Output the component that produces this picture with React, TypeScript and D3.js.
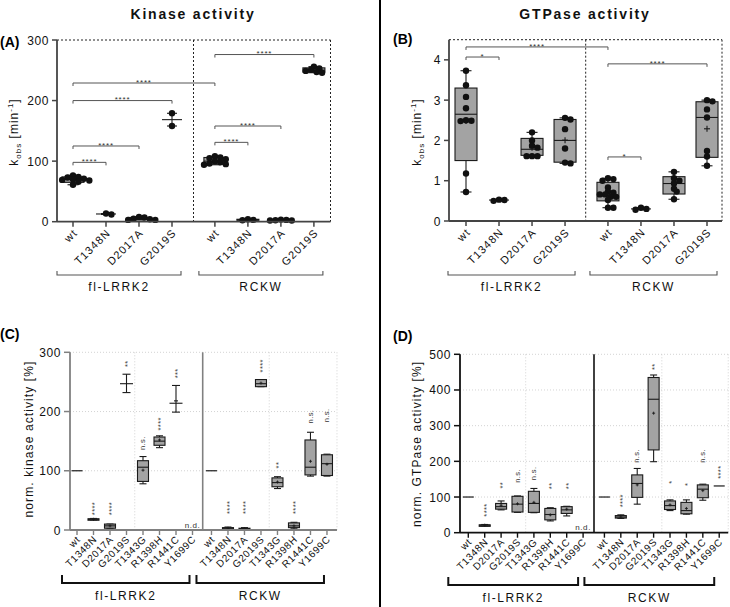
import React from "react";
import * as d3 from "d3";

const FONT = "'Liberation Sans', Arial, Helvetica, sans-serif";

// ---------- shared categories ----------
const groupNames = ["fl-LRRK2", "RCKW"];
const variantsAB = ["wt", "T1348N", "D2017A", "G2019S"];
const variantsCD = ["wt", "T1348N", "D2017A", "G2019S", "T1343G", "R1398H", "R1441C", "Y1699C"];

// ---------- (A) kinase activity, kobs [min^-1] ----------
const kinaseTicks = [0, 100, 200, 300];
const kinaseFlPoints = [
  [76.5, 74, 73, 71, 70, 69, 68, 66, 61],
  [12, 13.5],
  [8, 7, 5, 4, 3, 3],
  [179, 158],
];
const kinaseRckwPoints = [
  [108, 106, 105, 103, 100, 98, 96, 95, 94],
  [4, 3, 2.5],
  [3.5, 3, 2.5, 2, 2],
  [256, 253, 251, 249, 247, 246],
];
// [min, q1, median, q3, max] ; null = too few points for a box
const kinaseFlBox = [[61, 65, 70, 74, 76.5], null, [3, 3.5, 5, 7, 8], null];
const kinaseRckwBox = [[94, 95, 100, 106, 108], [2.5, 2.5, 3, 4, 4], [2, 2, 2.5, 3, 3.5], [246, 247, 250, 254, 256]];
// [from category, to category, level, label]
const kinaseBrackets: [number, number, number, string][] = [
  [0, 4, 229, "****"], [0, 3, 200, "****"], [0, 2, 125, "****"], [0, 1, 98, "****"],
  [4, 7, 276, "****"], [4, 6, 158, "****"], [4, 5, 131, "****"],
];

// ---------- (B) GTPase activity, kobs [min^-1] ----------
const gtpaseTicks = [0, 1, 2, 3, 4];
const gtpaseFlPoints = [
  [3.73, 3.37, 3.08, 2.8, 2.5, 2.49, 2.48, 1.18, 0.72],
  [0.53, 0.5, 0.52],
  [2.2, 2.0, 1.87, 1.82, 1.61, 1.61, 1.61],
  [2.56, 2.52, 2.28, 1.8, 1.45, 1.43],
];
const gtpaseRckwPoints = [
  [1.06, 1.04, 1.0, 0.83, 0.73, 0.7, 0.66, 0.66, 0.6, 0.6, 0.52, 0.33, 0.33],
  [0.33, 0.28, 0.3],
  [1.22, 1.06, 1.0, 0.94, 0.8, 0.73, 0.54],
  [3.0, 2.97, 2.77, 2.57, 1.74, 1.6, 1.37],
];
const gtpaseFlBox = [[0.72, 1.5, 2.65, 3.3, 3.73], null, [1.61, 1.63, 1.78, 2.05, 2.2], [1.43, 1.46, 2.0, 2.52, 2.56]];
const gtpaseRckwBox = [[0.33, 0.5, 0.62, 0.96, 1.06], null, [0.54, 0.67, 0.93, 1.1, 1.22], [1.37, 1.58, 2.57, 2.96, 3.0]];
const gtpaseBrackets: [number, number, number, string][] = [
  [0, 4, 4.32, "****"], [0, 1, 4.07, "*"], [4, 7, 3.9, "****"], [4, 5, 1.59, "*"],
];

// ---------- (C) normalised kinase activity [%] ----------
// [v] single value, [min, mean, max(, mean marker)] error bar, [min, q1, median, q3, max, mean] box, null = n.d.
const normKinaseTicks = [0, 100, 200, 300];
const normKinaseFl = [[100], [17, 17.5, 18, 19, 19.5, 18], [3, 3, 7, 10, 10, 7], [232, 247, 263], [78, 82, 106, 117, 124, 101], [139, 143, 150, 157, 159, 152], [199, 214, 244, 218], null];
const normKinaseRckw = [[100], [1, 2, 3, 4, 5, 3], [1, 1.5, 2.5, 3, 4, 2.5], [242, 242, 247, 254, 254, 248], [70, 73, 80, 88, 90, 81], [2, 4, 7, 12, 13, 7], [91, 93, 106, 152, 165, 116], [91, 92, 112, 127, 128, 111]];
const normKinaseFlSig = ["", "****", "****", "**", "n.s.", "****", "***", "n.d."];
const normKinaseRckwSig = ["", "****", "****", "****", "**", "****", "n.s.", "n.s."];
const normKinaseFlSigAt = [0, 25, 25, 275, 135, 168, 256, 0];
const normKinaseRckwSigAt = [0, 27, 27, 266, 104, 27, 180, 182];

// ---------- (D) normalised GTPase activity [%] ----------
const normGtpaseTicks = [0, 100, 200, 300, 400, 500];
const normGtpaseFl = [[100], [19, 20, 21, 22, 23, 21], [64, 66, 73, 82, 89, 77], [57, 58, 80, 102, 103, 81], [56, 57, 82, 116, 124, 85], [33, 36, 51, 68, 70, 50], [47, 54, 64, 73, 74, 66], null];
const normGtpaseRckw = [[100], [40, 41, 44, 48, 50, 44], [80, 99, 138, 162, 180, 134], [199, 232, 374, 435, 442, 335], [62, 65, 76, 89, 92, 78], [52, 53, 62, 85, 92, 68], [91, 98, 122, 134, 136, 118], [131]];
const normGtpaseFlSig = ["", "****", "**", "n.s.", "n.s.", "**", "**", "n.d."];
const normGtpaseRckwSig = ["", "****", "n.s.", "**", "*", "*", "n.s.", "****"];
const normGtpaseFlSigAt = [0, 45, 124, 140, 147, 122, 122, 0];
const normGtpaseRckwSigAt = [0, 71, 196, 456, 137, 131, 196, 151];

// ---------- helpers ----------
function swarm(values: number[], y: (v: number) => number, r: number) {
  const placed: { x: number; y: number }[] = [];
  const sorted = values.slice().sort((a, b) => b - a);
  for (const v of sorted) {
    const py = y(v);
    let chosen = 0;
    for (let k = 0; k < 30; k++) {
      const off = k === 0 ? 0 : (k % 2 === 1 ? 1 : -1) * Math.ceil(k / 2) * r * 0.85;
      if (placed.every((p) => Math.hypot(p.x - off, p.y - py) >= r * 1.2)) {
        chosen = off;
        break;
      }
    }
    placed.push({ x: chosen, y: py });
  }
  return placed;
}

const BOX_FILL = "#a3a3a3";
const INK = "#1a1a1a";

function KobsPanel(props: any) {
  const { flPoints, rckwPoints, flBox, rckwBox, brackets, domain, ticks, L, showMean, tickFmt, yLabel } = props;
  const y = d3.scaleLinear().domain(domain).range([L.bottom, L.top]);
  const xl = d3.scaleLinear().domain([0, 7.3]).range([L.x0, L.x1]);
  const pos = (i: number) => xl(i + (i >= 4 ? 0.3 : 0));
  const allPoints: number[][] = [...flPoints, ...rckwPoints];
  const allBoxes: (number[] | null)[] = [...flBox, ...rckwBox];
  const labels = [...variantsAB, ...variantsAB];
  const axisColor = "#444";
  const bw = 22;
  return (
    <g>
      <g stroke="#222" strokeWidth={1} strokeDasharray="2,2" fill="none">
        <line x1={L.left} x2={L.right} y1={L.top} y2={L.top} />
        <line x1={L.right} x2={L.right} y1={L.top} y2={L.bottom} />
        <line x1={L.mid} x2={L.mid} y1={L.top} y2={L.bottom} />
      </g>
      {brackets.map((b: any, i: number) => {
        const x1 = pos(b[0]), x2 = pos(b[1]), yy = y(b[2]);
        return (
          <g key={"br" + i}>
            <path d={`M${x1},${yy + 3}V${yy}H${x2}V${yy + 3}`} fill="none" stroke="#555" strokeWidth={1} />
            <text x={(x1 + x2) / 2} y={yy + 1.8} textAnchor="middle" fontSize={8} letterSpacing={0.8} fill="#333">{b[3]}</text>
          </g>
        );
      })}
      {allBoxes.map((s, i) => {
        const x = pos(i);
        const pts = allPoints[i];
        if (!s) {
          const mn = d3.min(pts)!, mx = d3.max(pts)!, md = d3.median(pts)!;
          return (
            <g key={"bx" + i} stroke={INK} strokeWidth={1.1}>
              <line x1={x} x2={x} y1={y(mn)} y2={y(mx)} />
              <line x1={x - 5} x2={x + 5} y1={y(mn)} y2={y(mn)} />
              <line x1={x - 5} x2={x + 5} y1={y(mx)} y2={y(mx)} />
              <line x1={x - 10} x2={x + 10} y1={y(md)} y2={y(md)} />
            </g>
          );
        }
        const [mn, q1, md, q3, mx] = s;
        const mean = d3.mean(pts)!;
        return (
          <g key={"bx" + i} stroke={INK} strokeWidth={1.1}>
            <line x1={x} x2={x} y1={y(mx)} y2={y(q3)} />
            <line x1={x} x2={x} y1={y(q1)} y2={y(mn)} />
            <line x1={x - 5.5} x2={x + 5.5} y1={y(mx)} y2={y(mx)} />
            <line x1={x - 5.5} x2={x + 5.5} y1={y(mn)} y2={y(mn)} />
            <rect x={x - bw / 2} y={y(q3)} width={bw} height={Math.max(1, y(q1) - y(q3))} fill={BOX_FILL} />
            <line x1={x - bw / 2} x2={x + bw / 2} y1={y(md)} y2={y(md)} />
            {showMean && (
              <g>
                <line x1={x - 3} x2={x + 3} y1={y(mean)} y2={y(mean)} />
                <line x1={x} x2={x} y1={y(mean) - 3} y2={y(mean) + 3} />
              </g>
            )}
          </g>
        );
      })}
      {allPoints.map((pts, i) =>
        swarm(pts, y, 3.2).map((p, j) => (
          <circle key={`pt${i}-${j}`} cx={pos(i) + p.x} cy={p.y} r={3.2} fill="#111" />
        ))
      )}
      <line x1={L.left} x2={L.left} y1={L.top} y2={L.bottom} stroke={axisColor} strokeWidth={1.8} />
      <line x1={L.left} x2={L.right} y1={L.bottom} y2={L.bottom} stroke={axisColor} strokeWidth={1.8} />
      {ticks.map((t: number) => (
        <g key={"yt" + t}>
          <line x1={L.left - 5} x2={L.left} y1={y(t)} y2={y(t)} stroke={axisColor} strokeWidth={1.5} />
          <text x={L.left - 8} y={y(t) + 4.5} textAnchor="end" fontSize={12} letterSpacing={0.6} fill="#111">{tickFmt(t)}</text>
        </g>
      ))}
      {labels.map((lab, i) => (
        <g key={"xt" + i}>
          <line x1={pos(i)} x2={pos(i)} y1={L.bottom} y2={L.bottom + 5} stroke={axisColor} strokeWidth={1.5} />
          <text transform={`translate(${pos(i) + 5},${L.bottom + 12}) rotate(-45)`} textAnchor="end" fontSize={11} letterSpacing={1} fill="#111">{lab}</text>
        </g>
      ))}
      {groupNames.map((g, gi) => {
        const a = pos(gi * 4) + L.brA, b = pos(gi * 4 + 3) + L.brB;
        return (
          <g key={"grp" + g}>
            <path d={`M${a},${L.brY - 4}V${L.brY}H${b}V${L.brY - 4}`} fill="none" stroke="#555" strokeWidth={1.1} />
            <text x={(a + b) / 2} y={L.brY + 16} textAnchor="middle" fontSize={12} letterSpacing={1.6} fill="#111">{g}</text>
          </g>
        );
      })}
      {yLabel}
    </g>
  );
}

function NormPanel(props: any) {
  const { fl, rckw, flSig, rckwSig, flSigAt, rckwSigAt, domain, ticks, L, axisColor, midColor, yLabel } = props;
  const y = d3.scaleLinear().domain(domain).range([L.bottom, L.top]);
  const xl = d3.scaleLinear().domain([0, 1]).range([L.x0, L.x0 + L.step]);
  const pos = (i: number) => xl(i + (i >= 8 ? L.gap : 0));
  const stats: (number[] | null)[] = [...fl, ...rckw];
  const sig: string[] = [...flSig, ...rckwSig];
  const sigAt: number[] = [...flSigAt, ...rckwSigAt];
  const labels = [...variantsCD, ...variantsCD];
  const right = pos(15) + L.rightPad;
  const gridX = [(pos(3) + pos(4)) / 2, (pos(11) + pos(12)) / 2, right];
  const bw = 11;
  return (
    <g>
      <g stroke="#c8c8c8" strokeWidth={0.8} strokeDasharray="1,2" fill="none">
        {ticks.filter((t: number) => t > 0).map((t: number) => (
          <line key={"gy" + t} x1={L.left} x2={right} y1={y(t)} y2={y(t)} />
        ))}
        {gridX.map((gx, i) => (
          <line key={"gx" + i} x1={gx} x2={gx} y1={L.top} y2={L.bottom} />
        ))}
      </g>
      <line x1={L.mid} x2={L.mid} y1={L.top} y2={L.bottom} stroke={midColor} strokeWidth={1.6} />
      {stats.map((s, i) => {
        const x = pos(i);
        if (!s) return null;
        if (s.length === 1) {
          return <line key={"m" + i} x1={x - 5.5} x2={x + 5.5} y1={y(s[0])} y2={y(s[0])} stroke={INK} strokeWidth={1.2} />;
        }
        if (s.length <= 4) {
          const [lo, m, hi, plus] = s;
          return (
            <g key={"m" + i} stroke={INK} strokeWidth={1.1}>
              <line x1={x} x2={x} y1={y(lo)} y2={y(hi)} />
              <line x1={x - 4} x2={x + 4} y1={y(lo)} y2={y(lo)} />
              <line x1={x - 4} x2={x + 4} y1={y(hi)} y2={y(hi)} />
              <line x1={x - 6.5} x2={x + 6.5} y1={y(m)} y2={y(m)} />
              {plus != null && <line x1={x - 2} x2={x + 2} y1={y(plus)} y2={y(plus)} />}
            </g>
          );
        }
        const [mn, q1, md, q3, mx, mean] = s;
        return (
          <g key={"m" + i} stroke={INK} strokeWidth={1.1}>
            <line x1={x} x2={x} y1={y(mx)} y2={y(mn)} />
            <line x1={x - 3.5} x2={x + 3.5} y1={y(mx)} y2={y(mx)} />
            <line x1={x - 3.5} x2={x + 3.5} y1={y(mn)} y2={y(mn)} />
            <rect x={x - bw / 2} y={y(q3)} width={bw} height={Math.max(1.5, y(q1) - y(q3))} fill={BOX_FILL} />
            <line x1={x - bw / 2} x2={x + bw / 2} y1={y(md)} y2={y(md)} />
            <line x1={x - 1.5} x2={x + 1.5} y1={y(mean)} y2={y(mean)} strokeWidth={0.9} />
            <line x1={x} x2={x} y1={y(mean) - 1.5} y2={y(mean) + 1.5} strokeWidth={0.9} />
          </g>
        );
      })}
      {sig.map((s, i) => {
        if (!s) return null;
        const x = pos(i);
        if (s === "n.d.") {
          return <text key={"s" + i} x={x} y={L.bottom - 2.5} textAnchor="middle" fontSize={8} letterSpacing={0.6} fill="#333">{s}</text>;
        }
        const isStar = s.indexOf("*") >= 0;
        const dx = isStar ? 3.8 : 2.2;
        return (
          <text key={"s" + i} transform={`translate(${x + dx},${y(sigAt[i])}) rotate(-90)`} fontSize={7.5} letterSpacing={0.4} fill="#333">{s}</text>
        );
      })}
      <line x1={L.left} x2={L.left} y1={L.top} y2={L.bottom} stroke={axisColor} strokeWidth={1.8} />
      <line x1={L.left} x2={right} y1={L.bottom} y2={L.bottom} stroke={axisColor} strokeWidth={1.8} />
      {ticks.map((t: number) => (
        <g key={"yt" + t}>
          <line x1={L.left - 6} x2={L.left} y1={y(t)} y2={y(t)} stroke={axisColor} strokeWidth={1.5} />
          <text x={L.left - 9} y={y(t) + 4.5} textAnchor="end" fontSize={12} letterSpacing={0.6} fill="#111">{t}</text>
        </g>
      ))}
      {labels.map((lab, i) => (
        <g key={"xt" + i}>
          <line x1={pos(i)} x2={pos(i)} y1={L.bottom} y2={L.bottom + 5} stroke={axisColor} strokeWidth={1.4} />
          <text transform={`translate(${pos(i) + 4},${L.bottom + 10}) rotate(-45)`} textAnchor="end" fontSize={10} letterSpacing={0.6} fill="#111">{lab}</text>
        </g>
      ))}
      {groupNames.map((g, gi) => {
        const a = pos(gi * 8) + L.brA, b = pos(gi * 8 + 7) + L.brB;
        return (
          <g key={"grp" + g}>
            <path d={`M${a},${L.brY - 8}V${L.brY}H${b}V${L.brY - 8}`} fill="none" stroke="#111" strokeWidth={2} />
            <text x={(a + b) / 2} y={L.brY + 17} textAnchor="middle" fontSize={12} letterSpacing={1.6} fill="#111">{g}</text>
          </g>
        );
      })}
      {yLabel}
    </g>
  );
}

function KobsLabel({ x, y }: { x: number; y: number }) {
  return (
    <text transform={`translate(${x},${y}) rotate(-90)`} textAnchor="middle" fontSize={12} letterSpacing={1} fill="#111">
      k<tspan fontSize={8} dy={3}>obs</tspan>
      <tspan dy={-3}> [min</tspan>
      <tspan fontSize={8} dy={-5}>-1</tspan>
      <tspan dy={5}>]</tspan>
    </text>
  );
}

function NormLabel({ x, y, text }: { x: number; y: number; text: string }) {
  return (
    <text transform={`translate(${x},${y}) rotate(-90)`} textAnchor="middle" fontSize={12} letterSpacing={1.1} fill="#111">
      {text}
    </text>
  );
}

export default function App() {
  return (
    <svg
      width={730}
      height={607}
      viewBox="0 0 730 607"
      style={{ position: "absolute", left: 0, top: 0, background: "#fff" }}
      fontFamily={FONT}
    >
      <rect width={730} height={607} fill="#fff" />
      <line x1={380} x2={380} y1={0} y2={607} stroke="#000" strokeWidth={2} />
      <text x={193} y={19} textAnchor="middle" fontWeight="bold" fontSize={14} letterSpacing={1.8} fill="#111">Kinase activity</text>
      <text x={585} y={19} textAnchor="middle" fontWeight="bold" fontSize={14} letterSpacing={1.8} fill="#111">GTPase activity</text>
      <text x={0} y={47} fontWeight="bold" fontSize={14}>(A)</text>
      <text x={393} y={44} fontWeight="bold" fontSize={14}>(B)</text>
      <text x={0} y={339} fontWeight="bold" fontSize={14}>(C)</text>
      <text x={393} y={341} fontWeight="bold" fontSize={14}>(D)</text>

      <KobsPanel
        flPoints={kinaseFlPoints}
        rckwPoints={kinaseRckwPoints}
        flBox={kinaseFlBox}
        rckwBox={kinaseRckwBox}
        brackets={kinaseBrackets}
        domain={[0, 300]}
        ticks={kinaseTicks}
        tickFmt={(t: number) => String(t)}
        showMean={false}
        L={{ left: 57, right: 330.5, top: 40, bottom: 221.7, mid: 193.5, x0: 73, x1: 313.9, brY: 275, brA: -16, brB: 9 }}
        yLabel={<KobsLabel x={18} y={132} />}
      />
      <KobsPanel
        flPoints={gtpaseFlPoints}
        rckwPoints={gtpaseRckwPoints}
        flBox={gtpaseFlBox}
        rckwBox={gtpaseRckwBox}
        brackets={gtpaseBrackets}
        domain={[0, 4.5]}
        ticks={gtpaseTicks}
        tickFmt={(t: number) => String(t)}
        showMean={true}
        L={{ left: 449, right: 722, top: 39.7, bottom: 221, mid: 585.7, x0: 466, x1: 707, brY: 275, brA: -18, brB: 10 }}
        yLabel={<KobsLabel x={421} y={132} />}
      />
      <NormPanel
        fl={normKinaseFl}
        rckw={normKinaseRckw}
        flSig={normKinaseFlSig}
        rckwSig={normKinaseRckwSig}
        flSigAt={normKinaseFlSigAt}
        rckwSigAt={normKinaseRckwSigAt}
        domain={[0, 300]}
        ticks={normKinaseTicks}
        axisColor="#808080"
        midColor="#808080"
        L={{ left: 70, top: 352.3, bottom: 530, mid: 202.7, x0: 77, step: 16.5, gap: 0.15, rightPad: 10, brY: 583, brA: -15, brB: -3 }}
        yLabel={<NormLabel x={33} y={439} text="norm. kinase activity [%]" />}
      />
      <NormPanel
        fl={normGtpaseFl}
        rckw={normGtpaseRckw}
        flSig={normGtpaseFlSig}
        rckwSig={normGtpaseRckwSig}
        flSigAt={normGtpaseFlSigAt}
        rckwSigAt={normGtpaseRckwSigAt}
        domain={[0, 500]}
        ticks={normGtpaseTicks}
        axisColor="#111"
        midColor="#111"
        L={{ left: 460, top: 354.3, bottom: 532.7, mid: 594, x0: 468.3, step: 16.4, gap: 0.3, rightPad: 9, brY: 585, brA: -20, brB: -5 }}
        yLabel={<NormLabel x={421} y={444} text="norm. GTPase activity [%]" />}
      />
    </svg>
  );
}
